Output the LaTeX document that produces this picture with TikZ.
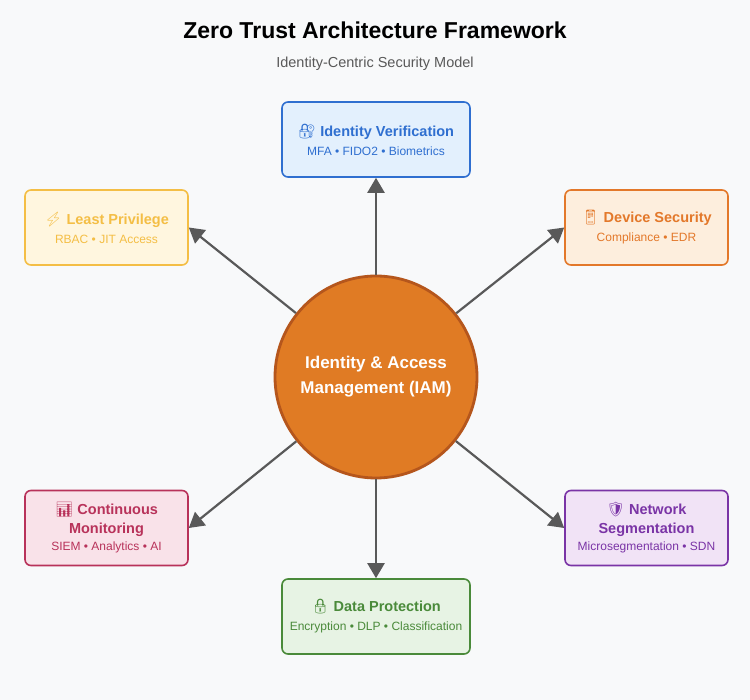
\documentclass[tikz,border=0pt]{standalone}
\usepackage{fontspec}
\setmainfont{Liberation Sans}
\newfontfamily\emo{Noto Emoji}
\usetikzlibrary{arrows.meta}
\definecolor{bgcol}{HTML}{F8F9FA}
\definecolor{bluecol}{HTML}{2F6FD0}\definecolor{bluefill}{HTML}{E3F0FD}
\definecolor{yelcol}{HTML}{F4BE45}\definecolor{yelfill}{HTML}{FFF6DF}
\definecolor{orgcol}{HTML}{E3782A}\definecolor{orgfill}{HTML}{FDEEDD}
\definecolor{redcol}{HTML}{B8325A}\definecolor{redfill}{HTML}{F9E2E9}
\definecolor{purcol}{HTML}{7A34A6}\definecolor{purfill}{HTML}{F1E3F6}
\definecolor{grncol}{HTML}{4A8A3A}\definecolor{grnfill}{HTML}{E7F3E4}
\definecolor{iamfill}{HTML}{E07B24}\definecolor{iamline}{HTML}{B5561C}
\newcommand{\hd}{\fontsize{14.5}{18}\selectfont\bfseries}
\newcommand{\sm}{\fontsize{12}{14}\selectfont\mdseries}
\tikzset{
  pillar/.style={draw=#1col, fill=#1fill, line width=1.6pt, rounded corners=6pt,
    minimum width=163pt, minimum height=75pt, align=center, text=#1col},
  widepillar/.style={pillar=#1, minimum width=188pt},
  link/.style={draw=black!65, line width=2.2pt, -{Triangle[length=15pt,width=17pt]}}
}
\begin{document}
\begin{tikzpicture}[x=1pt,y=-1pt]
\fill[bgcol] (0,0) rectangle (750,700);
\node (title) at (375,30) {\fontsize{23}{27}\selectfont\bfseries Zero Trust Architecture Framework};
\node[text=black!65] (subtitle) at (375,64) {\fontsize{14.5}{17}\selectfont Identity-Centric Security Model};
% center
\node[circle, fill=iamfill, draw=iamline, line width=2.8pt, minimum size=202pt, text=white,
  align=center, font=\fontsize{17}{25}\selectfont\bfseries] (iam) at (376,377) {Identity \& Access\\Management (IAM)};
% pillars
\node[widepillar=blue] (idv) at (376,139.5) {\hd{\emo 🔐} Identity Verification\\[7pt]\sm MFA • FIDO2 • Biometrics};
\node[pillar=yel] (lp) at (106.5,227.5) {\hd{\emo ⚡} Least Privilege\\[7pt]\sm RBAC • JIT Access};
\node[pillar=org] (dev) at (646.5,227.5) {\hd{\emo 📱} Device Security\\[7pt]\sm Compliance • EDR};
\node[pillar=red] (mon) at (106.5,528) {\hd{\emo 📊} Continuous\\[5pt]\hd Monitoring\\[5pt]\sm SIEM • Analytics • AI};
\node[pillar=pur] (net) at (646.5,528) {\hd{\emo 🛡} Network\\[5pt]\hd Segmentation\\[5pt]\sm Microsegmentation • SDN};
\node[widepillar=grn] (dat) at (376,616.5) {\hd{\emo 🔒} Data Protection\\[7pt]\sm Encryption • DLP • Classification};
% connectors
\draw[link] (iam) -- (idv.south);
\draw[link] (iam) -- (lp.east);
\draw[link] (iam) -- (dev.west);
\draw[link] (iam) -- (mon.east);
\draw[link] (iam) -- (net.west);
\draw[link] (iam) -- (dat.north);
\end{tikzpicture}
\end{document}
